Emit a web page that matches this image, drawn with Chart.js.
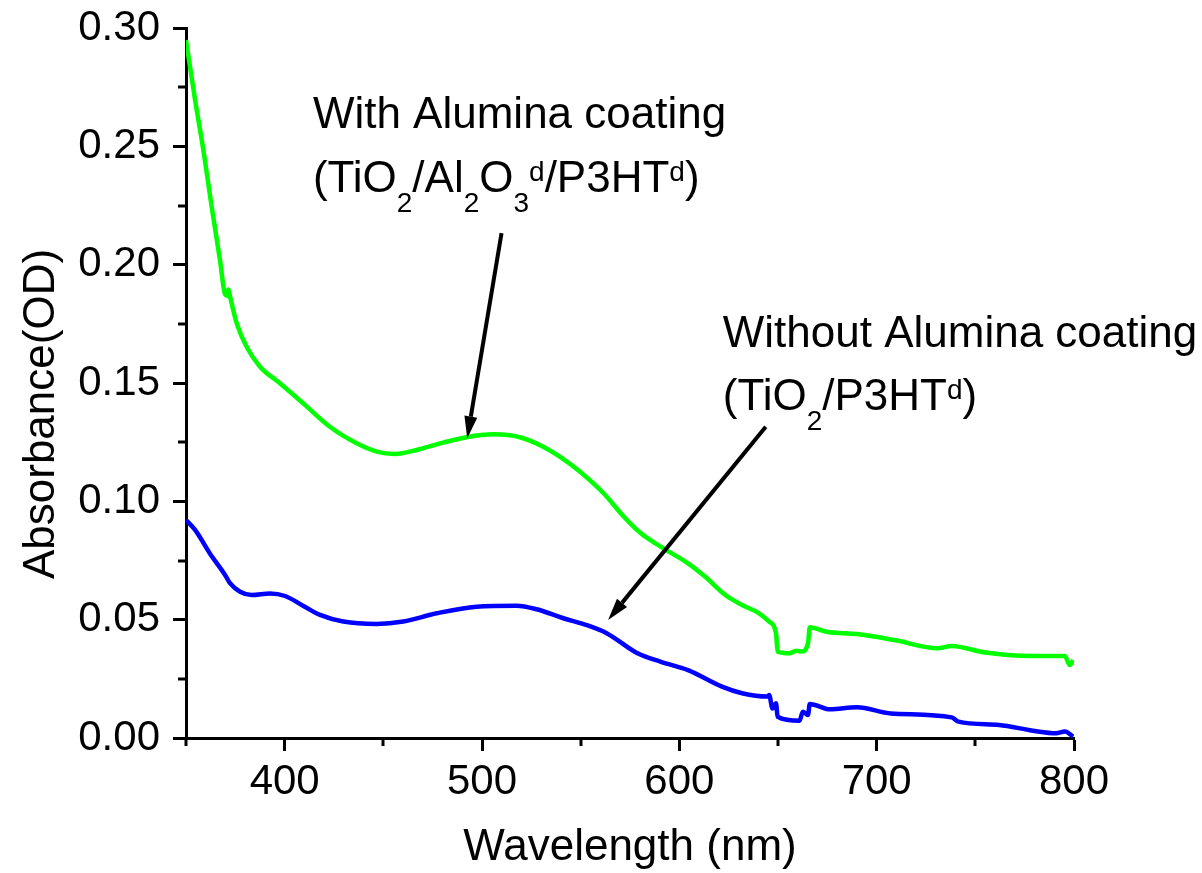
<!DOCTYPE html>
<html>
<head>
<meta charset="utf-8">
<title>Absorbance</title>
<script src="https://cdn.jsdelivr.net/npm/chart.js@4.4.1/dist/chart.umd.min.js"></script>
<style>
  html, body { margin: 0; padding: 0; background: #fff; }
  #wrap { width: 1202px; height: 873px; }
</style>
</head>
<body>
<div id="wrap"><canvas id="chart" width="1202" height="873"></canvas></div>
<script>
// values: wavelength (nm) and absorbance (OD)
var withAluminaNm = [350.0, 354.6, 358.8, 363.0, 367.2, 369.8, 371.0, 371.4, 372.6, 375.7,
  380.7, 387.5, 397.6, 409.4, 422.9, 436.5, 446.6, 455.9, 466.9, 480.3,
  492.2, 505.7, 519.2, 531.0, 539.4, 549.7, 561.6, 571.9, 580.5, 590.7,
  604.4, 613.0, 623.3, 631.8, 640.4, 645.5, 649.0, 649.8, 655.8, 659.2,
  661.8, 665.2, 666.1, 674.6, 690.0, 708.9, 731.1, 738.0, 755.1, 779.1,
  791.0, 795.3, 797.9, 799.6];
var withAluminaOD = [0.2949, 0.2696, 0.2484, 0.2245, 0.2020, 0.1875, 0.1868, 0.1895, 0.1855, 0.1752,
  0.1653, 0.1569, 0.1499, 0.1414, 0.1315, 0.1245, 0.1210, 0.1200, 0.1217, 0.1248,
  0.1271, 0.1283, 0.1271, 0.1231, 0.1189, 0.1125, 0.1034, 0.0935, 0.0865, 0.0808,
  0.0738, 0.0682, 0.0604, 0.0562, 0.0527, 0.0492, 0.0442, 0.0365, 0.0358, 0.0369,
  0.0365, 0.0400, 0.0468, 0.0449, 0.0439, 0.0414, 0.0379, 0.0389, 0.0361, 0.0346,
  0.0346, 0.0346, 0.0308, 0.0330];

var withoutAluminaNm = [350.0, 354.6, 362.1, 369.8, 372.3, 377.4, 383.3, 392.6, 400.2, 409.5,
  417.9, 429.7, 446.6, 460.1, 477.0, 497.2, 517.5, 527.7, 541.2, 553.1,
  563.4, 578.8, 590.7, 604.4, 621.6, 631.8, 644.7, 645.5, 647.2, 649.0,
  649.8, 660.9, 662.6, 665.2, 666.1, 676.3, 690.0, 707.2, 738.0, 741.4,
  762.0, 779.1, 791.0, 795.3, 799.6];
var withoutAluminaOD = [0.0921, 0.0879, 0.0780, 0.0689, 0.0654, 0.0618, 0.0604, 0.0611, 0.0600, 0.0558,
  0.0520, 0.0492, 0.0482, 0.0492, 0.0527, 0.0555, 0.0559, 0.0544, 0.0506, 0.0477,
  0.0442, 0.0358, 0.0322, 0.0287, 0.0217, 0.0189, 0.0175, 0.0182, 0.0125, 0.0147,
  0.0090, 0.0073, 0.0111, 0.0097, 0.0144, 0.0121, 0.0130, 0.0104, 0.0087, 0.0069,
  0.0055, 0.0031, 0.0020, 0.0027, 0.0006];

var xTicks = [400, 500, 600, 700, 800];
var xMinorTicks = [350, 450, 550, 650, 750];
var yTicks = [0, 0.05, 0.10, 0.15, 0.20, 0.25, 0.30];
var yTickLabels = ['0.00', '0.05', '0.10', '0.15', '0.20', '0.25', '0.30'];
var yMinorTicks = [0.025, 0.075, 0.125, 0.175, 0.225, 0.275];

// labels on the plot, anchored in data units (first baseline, left edge)
var notes = [
  { nm: 414.3, od: 0.2576, lines: [
    [['With Alumina coating']],
    [['(TiO'], ['2', 'sub'], ['/Al'], ['2', 'sub'], ['O'], ['3', 'sub'], ['d', 'sup'], ['/P3HT'], ['d', 'sup'], [')']]
  ] },
  { nm: 622.0, od: 0.1653, lines: [
    [['Without Alumina coating']],
    [['(TiO'], ['2', 'sub'], ['/P3HT'], ['d', 'sup'], [')']]
  ] }
];
var arrows = [
  { from: [509.9, 0.2133], to: [492.5, 0.1266] },
  { from: [643.8, 0.1315], to: [563.9, 0.0499] }
];

var FONT = '"Liberation Sans", Arial, sans-serif';
Chart.defaults.font.family = FONT;
Chart.defaults.color = '#000';

function toPoints(xs, ys) {
  return xs.map(function (x, i) { return { x: x, y: ys[i] }; });
}

function drawRich(ctx, x, y, parts) {
  parts.forEach(function (p) {
    var dy = 0;
    ctx.font = '44px ' + FONT;
    if (p[1] === 'sub') { ctx.font = '28px ' + FONT; dy = 20; }
    if (p[1] === 'sup') { ctx.font = '28px ' + FONT; dy = -11; }
    ctx.fillText(p[0], x, y + dy);
    x += ctx.measureText(p[0]).width;
  });
}

var extras = {
  id: 'extras',
  afterDraw: function (chart) {
    var ctx = chart.ctx, xs = chart.scales.x, ys = chart.scales.y, area = chart.chartArea;
    ctx.save();
    ctx.strokeStyle = '#000';
    ctx.fillStyle = '#000';

    // minor ticks
    ctx.lineWidth = 3;
    ctx.beginPath();
    xMinorTicks.forEach(function (v) {
      var px = Math.round(xs.getPixelForValue(v));
      ctx.moveTo(px, area.bottom);
      ctx.lineTo(px, area.bottom + 8);
    });
    yMinorTicks.forEach(function (v) {
      var py = Math.round(ys.getPixelForValue(v));
      ctx.moveTo(area.left - 8, py);
      ctx.lineTo(area.left, py);
    });
    ctx.stroke();

    // y axis title
    ctx.save();
    ctx.translate(53.5, 414);
    ctx.rotate(-Math.PI / 2);
    ctx.font = '44px ' + FONT;
    ctx.textAlign = 'center';
    ctx.textBaseline = 'alphabetic';
    ctx.fillText('Absorbance(OD)', 0, 0);
    ctx.restore();

    // annotations
    ctx.textAlign = 'left';
    ctx.textBaseline = 'alphabetic';
    notes.forEach(function (n) {
      var x0 = xs.getPixelForValue(n.nm), y0 = ys.getPixelForValue(n.od);
      n.lines.forEach(function (line, i) {
        drawRich(ctx, x0, y0 + i * 63.4, line);
      });
    });

    // arrows
    arrows.forEach(function (a) {
      var x1 = xs.getPixelForValue(a.from[0]), y1 = ys.getPixelForValue(a.from[1]);
      var x2 = xs.getPixelForValue(a.to[0]), y2 = ys.getPixelForValue(a.to[1]);
      var ang = Math.atan2(y2 - y1, x2 - x1), head = 22, half = 6.5;
      var bx = x2 - head * Math.cos(ang), by = y2 - head * Math.sin(ang);
      ctx.lineWidth = 4;
      ctx.beginPath();
      ctx.moveTo(x1, y1);
      ctx.lineTo(bx, by);
      ctx.stroke();
      ctx.beginPath();
      ctx.moveTo(x2, y2);
      ctx.lineTo(bx + half * Math.sin(ang), by - half * Math.cos(ang));
      ctx.lineTo(bx - half * Math.sin(ang), by + half * Math.cos(ang));
      ctx.closePath();
      ctx.fill();
    });
    ctx.restore();
  }
};

var chart = new Chart(document.getElementById('chart'), {
  type: 'line',
  data: {
    datasets: [{
      label: 'With Alumina coating',
      data: toPoints(withAluminaNm, withAluminaOD),
      borderColor: '#00ff00'
    }, {
      label: 'Without Alumina coating',
      data: toPoints(withoutAluminaNm, withoutAluminaOD),
      borderColor: '#0000ff'
    }]
  },
  options: {
    responsive: false,
    animation: false,
    layout: { padding: { left: 0, top: 28, right: 128, bottom: 0 } },
    elements: {
      point: { radius: 0 },
      line: { borderWidth: 4.5, cubicInterpolationMode: 'monotone' }
    },
    plugins: { legend: { display: false }, tooltip: { enabled: false } },
    scales: {
      x: {
        type: 'linear',
        min: 350,
        max: 800,
        afterBuildTicks: function (s) { s.ticks = xTicks.map(function (v) { return { value: v }; }); },
        afterFit: function (s) { s.height = 135; s.paddingLeft = 0; s.paddingRight = 0; },
        border: { color: '#000', width: 3 },
        grid: { drawOnChartArea: false, tickLength: 13, tickWidth: 3, tickColor: '#000' },
        ticks: { font: { size: 42 }, padding: 6, maxRotation: 0, callback: function (v) { return String(v); } },
        title: { display: true, text: 'Wavelength (nm)', font: { size: 44, lineHeight: 1 }, padding: { top: 3, bottom: 3 } }
      },
      y: {
        min: 0,
        max: 0.30,
        afterBuildTicks: function (s) { s.ticks = yTicks.map(function (v) { return { value: v }; }); },
        afterFit: function (s) { s.width = 186; s.paddingTop = 0; s.paddingBottom = 0; },
        border: { color: '#000', width: 3 },
        grid: { drawOnChartArea: false, tickLength: 13, tickWidth: 3, tickColor: '#000' },
        ticks: { font: { size: 42 }, padding: 13, callback: function (v, i) { return yTickLabels[i]; } }
      }
    }
  },
  plugins: [extras]
});
</script>
</body>
</html>
